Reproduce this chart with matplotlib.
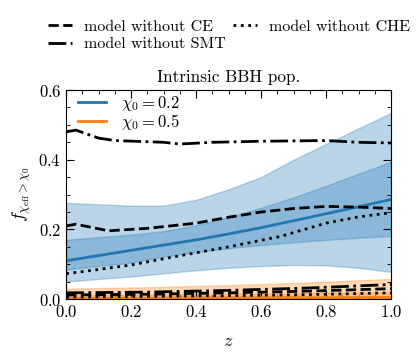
import numpy as np
import matplotlib
matplotlib.use("Agg")
import matplotlib.pyplot as plt
from matplotlib.ticker import MultipleLocator

plt.rcParams['font.family'] = 'serif'
plt.rcParams['font.serif'] = ['cmr10']
plt.rcParams['mathtext.fontset'] = 'cm'
plt.rcParams['axes.formatter.use_mathtext'] = True

# chi_0 = 0.2 (blue)
z_blue = [0.0, 0.1, 0.2, 0.3, 0.4, 0.5, 0.6, 0.7, 0.8, 0.9, 1.0]
blue_med = [0.110, 0.125, 0.140, 0.155, 0.170, 0.187, 0.205, 0.225, 0.245, 0.265, 0.286]
blue_in_lo = [0.085, 0.095, 0.105, 0.122, 0.135, 0.146, 0.155, 0.163, 0.170, 0.176, 0.181]
blue_in_hi = [0.170, 0.178, 0.185, 0.195, 0.212, 0.235, 0.262, 0.292, 0.325, 0.360, 0.394]
blue_out_lo = [0.050, 0.058, 0.065, 0.074, 0.083, 0.090, 0.095, 0.098, 0.097, 0.090, 0.078]
blue_out_hi = [0.276, 0.272, 0.268, 0.268, 0.285, 0.315, 0.350, 0.400, 0.445, 0.490, 0.534]

# chi_0 = 0.5 (orange)
z_orange = [0.0, 0.25, 0.5, 0.75, 1.0]
orange_med = [0.003, 0.003, 0.004, 0.004, 0.005]
orange_in_lo = [0.000, 0.000, 0.000, 0.001, 0.001]
orange_in_hi = [0.012, 0.013, 0.015, 0.017, 0.020]
orange_out_lo = [0.000, 0.000, 0.000, 0.000, 0.000]
orange_out_hi = [0.030, 0.034, 0.040, 0.048, 0.058]

# model variations, chi_0 = 0.2
z_ce = [0.0, 0.03, 0.13, 0.25, 0.4, 0.5, 0.6, 0.7, 0.8, 0.9, 1.0]
no_ce = [0.210, 0.215, 0.196, 0.203, 0.218, 0.235, 0.250, 0.260, 0.266, 0.264, 0.260]
z_che = [0.0, 0.1, 0.2, 0.33, 0.5, 0.66, 0.8, 0.9, 1.0]
no_che = [0.073, 0.085, 0.098, 0.121, 0.150, 0.180, 0.218, 0.236, 0.248]
z_smt = [0.0, 0.03, 0.1, 0.15, 0.3, 0.35, 0.45, 0.6, 0.8, 0.9, 1.0]
no_smt = [0.480, 0.485, 0.462, 0.455, 0.450, 0.445, 0.450, 0.453, 0.455, 0.450, 0.448]

# model variations, chi_0 = 0.5
z_low = [0.0, 0.25, 0.5, 0.75, 1.0]
no_ce_05 = [0.012, 0.014, 0.018, 0.023, 0.030]
no_che_05 = [0.006, 0.008, 0.010, 0.013, 0.018]
no_smt_05 = [0.018, 0.020, 0.025, 0.032, 0.042]

fig = plt.figure(figsize=(4.16, 3.63), dpi=100)
ax = fig.add_axes([0.159, 0.176, 0.781, 0.576])

ax.fill_between(z_blue, blue_out_lo, blue_out_hi, color='C0', alpha=0.3, lw=1)
ax.fill_between(z_blue, blue_in_lo, blue_in_hi, color='C0', alpha=0.3, lw=1)
ax.plot(z_blue, blue_med, color='C0', lw=2, label=r'$\chi_0 = 0.2$')

ax.fill_between(z_orange, orange_out_lo, orange_out_hi, color='C1', alpha=0.3, lw=1)
ax.fill_between(z_orange, orange_in_lo, orange_in_hi, color='C1', alpha=0.3, lw=1)
ax.plot(z_orange, orange_med, color='C1', lw=2, label=r'$\chi_0 = 0.5$')

l1, = ax.plot(z_ce, no_ce, 'k--', lw=2)
l2, = ax.plot(z_smt, no_smt, 'k-.', lw=2)
l3, = ax.plot(z_che, no_che, 'k:', lw=2)
ax.plot(z_low, no_ce_05, 'k--', lw=2)
ax.plot(z_low, no_smt_05, 'k-.', lw=2)
ax.plot(z_low, no_che_05, 'k:', lw=2)

ax.set_xlim(0, 1)
ax.set_ylim(0, 0.6)
ax.xaxis.set_major_locator(MultipleLocator(0.2))
ax.xaxis.set_minor_locator(MultipleLocator(0.05))
ax.yaxis.set_major_locator(MultipleLocator(0.2))
ax.yaxis.set_minor_locator(MultipleLocator(0.05))
ax.tick_params(which='both', direction='in', top=True, right=True, labelsize=12)
ax.tick_params(which='major', length=6)
ax.tick_params(which='minor', length=3)

ax.set_xlabel(r'$z$', fontsize=13, labelpad=10)
ax.set_ylabel(r'$f_{\chi_{\rm eff} > \chi_0}$', fontsize=13)
ax.set_title('Intrinsic BBH pop.', fontsize=12.3)
ax.legend(loc='upper left', bbox_to_anchor=(-0.01, 1.055), frameon=False, fontsize=12,
          labelspacing=-0.05, handlelength=1.7, handletextpad=0.9)

fig.legend([l1, l2, l3], ['model without CE', 'model without SMT', 'model without CHE'],
           ncol=2, loc='upper left', bbox_to_anchor=(0.08, 0.985), frameon=False,
           fontsize=11.5, handlelength=1.5, handletextpad=0.75, columnspacing=0.5,
           labelspacing=0.2)

fig.savefig('out.png', dpi=100)
